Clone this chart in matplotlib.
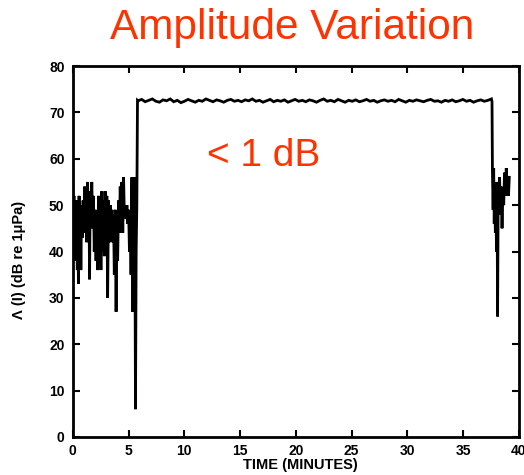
import numpy as np
import matplotlib
matplotlib.use("Agg")
import matplotlib.pyplot as plt

# ---- data ----
noisy_t = [0.00, 0.05, 0.10, 0.15, 0.22, 0.28, 0.33, 0.40, 0.45, 0.50, 0.56, 0.62, 0.68, 0.72,
           0.78, 0.85, 0.92, 1.00, 1.06, 1.12, 1.18, 1.25, 1.32, 1.38, 1.45, 1.50, 1.56, 1.62,
           1.70, 1.78, 1.85, 1.92, 2.00, 2.08, 2.15, 2.22, 2.30, 2.38, 2.45, 2.52, 2.60, 2.68,
           2.75, 2.82, 2.90, 2.98, 3.05, 3.12, 3.20, 3.28, 3.35, 3.42, 3.50, 3.58, 3.65, 3.72,
           3.80, 3.88, 3.95, 4.02, 4.10, 4.18, 4.25, 4.32, 4.40, 4.48, 4.55, 4.62, 4.70, 4.78,
           4.85, 4.92, 5.00, 5.08, 5.15, 5.22, 5.30, 5.36, 5.42, 5.48, 5.55, 5.62, 5.68, 5.74,
           5.80]
noisy_v = [54, 45, 52, 38, 50, 44, 51, 36, 49, 33, 52, 40, 48, 36,
           50, 43, 51, 44, 54, 45, 53, 42, 55, 46, 50, 34, 53, 47,
           55, 45, 52, 40, 49, 38, 48, 36, 52, 41, 50, 36, 53, 40,
           51, 39, 53, 44, 52, 30, 51, 42, 50, 45, 49, 42, 48, 35,
           49, 27, 46, 38, 51, 44, 54, 46, 55, 44, 56, 48, 50, 47,
           50, 46, 49, 40, 48, 35, 56, 27, 55, 45, 56, 6, 40, 50,
           72.6]

flat_start, flat_end = 5.85, 37.55
flat_v = [72.5, 72.8, 72.3, 72.6, 72.9, 72.4, 72.2, 72.7, 72.5, 72.9, 72.3, 72.6, 72.1, 72.4,
          72.8, 72.5, 72.2, 72.6, 72.4, 72.9, 72.6, 72.3, 72.7, 72.5, 72.2, 72.6, 72.8, 72.4,
          72.6, 72.3, 72.7, 72.5, 72.9, 72.4, 72.6, 72.2, 72.5, 72.8, 72.3, 72.6, 72.4, 72.7,
          72.2, 72.5, 72.8, 72.4, 72.6, 72.3, 72.7, 72.5, 72.2, 72.6, 72.9, 72.4, 72.6, 72.3,
          72.8, 72.5, 72.2, 72.6, 72.4, 72.7, 72.3, 72.5, 72.8, 72.4, 72.6, 72.2, 72.5, 72.7,
          72.4, 72.6, 72.3, 72.8, 72.5, 72.2, 72.6, 72.4, 72.7, 72.5, 72.3, 72.6, 72.8, 72.4,
          72.5, 72.2, 72.6, 72.4, 72.7, 72.3, 72.5, 72.8, 72.4, 72.6, 72.2, 72.5, 72.7, 72.4,
          72.6, 72.9]

end_t = [37.60, 37.64, 37.70, 37.75, 37.80, 37.85, 37.90, 37.95, 38.00, 38.05, 38.10, 38.15,
         38.22, 38.28, 38.35, 38.42, 38.50, 38.58, 38.65, 38.72, 38.80, 38.88, 38.95, 39.02,
         39.08, 39.15]
end_v = [72.3, 57, 49, 58, 46, 54, 44, 52, 40, 55, 26, 50, 48, 56, 49, 54, 45, 53, 50, 57,
         52, 58, 53, 55, 52, 56]

x_ticks = [0, 5, 10, 15, 20, 25, 30, 35, 40]
y_ticks = [0, 10, 20, 30, 40, 50, 60, 70, 80]

title = "Amplitude Variation"
note = "< 1 dB"
xlabel = "TIME (MINUTES)"
ylabel = "Λ (I) (dB re 1μPa)"

# ---- build series ----
flat_t = np.linspace(flat_start, flat_end, len(flat_v))
t = np.concatenate([noisy_t, flat_t, end_t])
v = np.concatenate([noisy_v, flat_v, end_v])

plt.rcParams['font.family'] = ['Liberation Sans', 'DejaVu Sans']
red = '#FF3300'

fig = plt.figure(figsize=(5.24, 4.75), dpi=100)
ax = fig.add_axes([0.139, 0.080, 0.851, 0.781])
ax.plot(t, v, color='black', lw=2.0, solid_joinstyle='miter')
ax.set_xlim(0, 40)
ax.set_ylim(0, 80)
ax.set_xticks(x_ticks)
ax.set_yticks(y_ticks)
ax.tick_params(direction='in', top=True, right=True, length=5, width=1.5,
               labelsize=10, pad=6)
ax.tick_params(axis='x', pad=5)
for lab in ax.get_xticklabels() + ax.get_yticklabels():
    lab.set_fontweight('bold')
for s in ax.spines.values():
    s.set_linewidth(2)

ax.text(12.0, 58.4, note, color=red, fontsize=28, ha='left', va='baseline')
fig.text(0.557, 0.918, title, color=red, fontsize=30.5, ha='center', va='baseline')
fig.text(0.573, 0.006, xlabel, fontsize=10.5, fontweight='bold', ha='center', va='bottom')
fig.text(0.036, 0.453, ylabel, fontsize=10.5, fontweight='bold', rotation=90,
         ha='center', va='center')

fig.savefig('out.png', dpi=100)
